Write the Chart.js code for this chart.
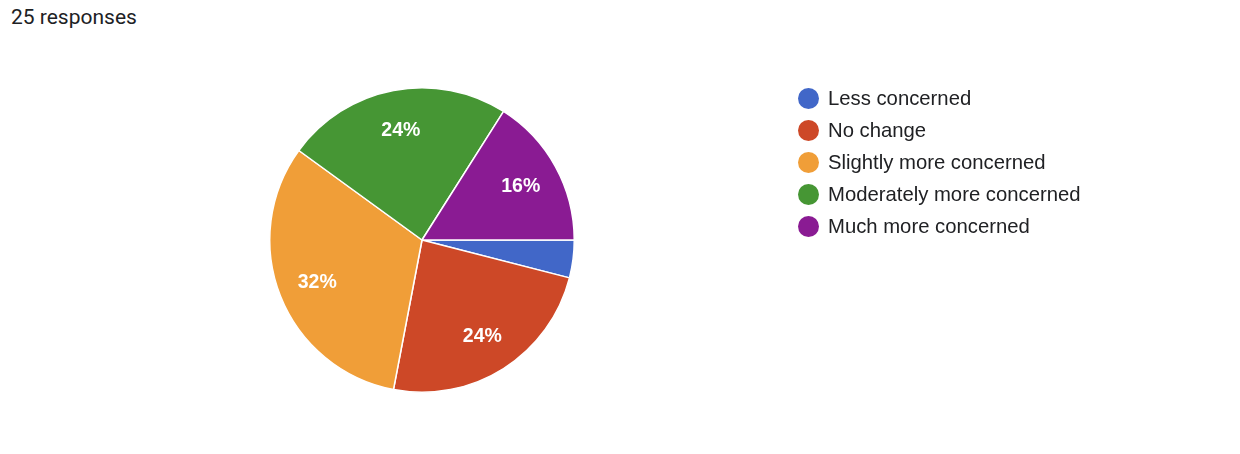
<!DOCTYPE html>
<html>
<head>
<meta charset="utf-8">
<script src="https://cdn.jsdelivr.net/npm/chart.js@4"></script>
<style>
  html, body { margin: 0; padding: 0; background: #fff; }
  body { width: 1240px; height: 454px; position: relative; overflow: hidden; }
  #title { position: absolute; left: 11px; top: 5px; font: 21px Roboto, "Liberation Sans", sans-serif; color: #202124; }
  #wrap { position: absolute; left: 0; top: 0; width: 1240px; height: 454px; }
  #legend { position: absolute; left: 798px; top: 82px; font: 20.3px "Liberation Sans", Arial, sans-serif; color: #202124; }
  #legend .row { height: 32px; display: flex; align-items: center; }
  #legend .dot { width: 21px; height: 21px; border-radius: 50%; margin-right: 9px; }
</style>
</head>
<body>
<div id="title">25 responses</div>
<div id="wrap"><canvas id="chart"></canvas></div>
<div id="legend"></div>
<script>
// Survey answers, in the order Google Forms draws them (clockwise from 3 o'clock).
const LABELS = ["Less concerned", "No change", "Slightly more concerned",
                "Moderately more concerned", "Much more concerned"];
const COUNTS = [1, 6, 8, 6, 4];
const COLORS = ["#4167c8", "#cd4827", "#f09e38", "#469634", "#8a1b93"];

const total = COUNTS.reduce((a, b) => a + b, 0);

// legend on the right, drawn as plain html
document.getElementById("legend").innerHTML = LABELS.map((l, i) =>
  `<div class="row"><span class="dot" style="background:${COLORS[i]}"></span>${l}</div>`).join("");

// percent labels inside the slices; tiny slices stay unlabelled
const sliceLabels = {
  id: "sliceLabels",
  afterDatasetsDraw(chart) {
    const ctx = chart.ctx;
    const meta = chart.getDatasetMeta(0);
    ctx.save();
    ctx.fillStyle = "#fff";
    ctx.font = "bold 19.5px 'Liberation Sans', Arial, sans-serif";
    ctx.textAlign = "center";
    ctx.textBaseline = "middle";
    meta.data.forEach((arc, i) => {
      const pct = Math.round(COUNTS[i] / total * 100);
      if (pct < 5) return;
      const mid = (arc.startAngle + arc.endAngle) / 2;
      const r = arc.outerRadius * 0.74;
      ctx.fillText(pct + "%", arc.x + Math.cos(mid) * r, arc.y + Math.sin(mid) * r + 1);
    });
    ctx.restore();
  },
};

new Chart(document.getElementById("chart"), {
  type: "pie",
  data: {
    labels: LABELS,
    datasets: [{ data: COUNTS, backgroundColor: COLORS, borderColor: "#fff", borderWidth: 1.5 }],
  },
  options: {
    responsive: true,
    maintainAspectRatio: false,
    animation: false,
    rotation: 90,
    layout: { padding: { left: 269, right: 665, top: 87, bottom: 61 } },
    plugins: { legend: { display: false }, tooltip: { enabled: false } },
  },
  plugins: [sliceLabels],
});
</script>
</body>
</html>
